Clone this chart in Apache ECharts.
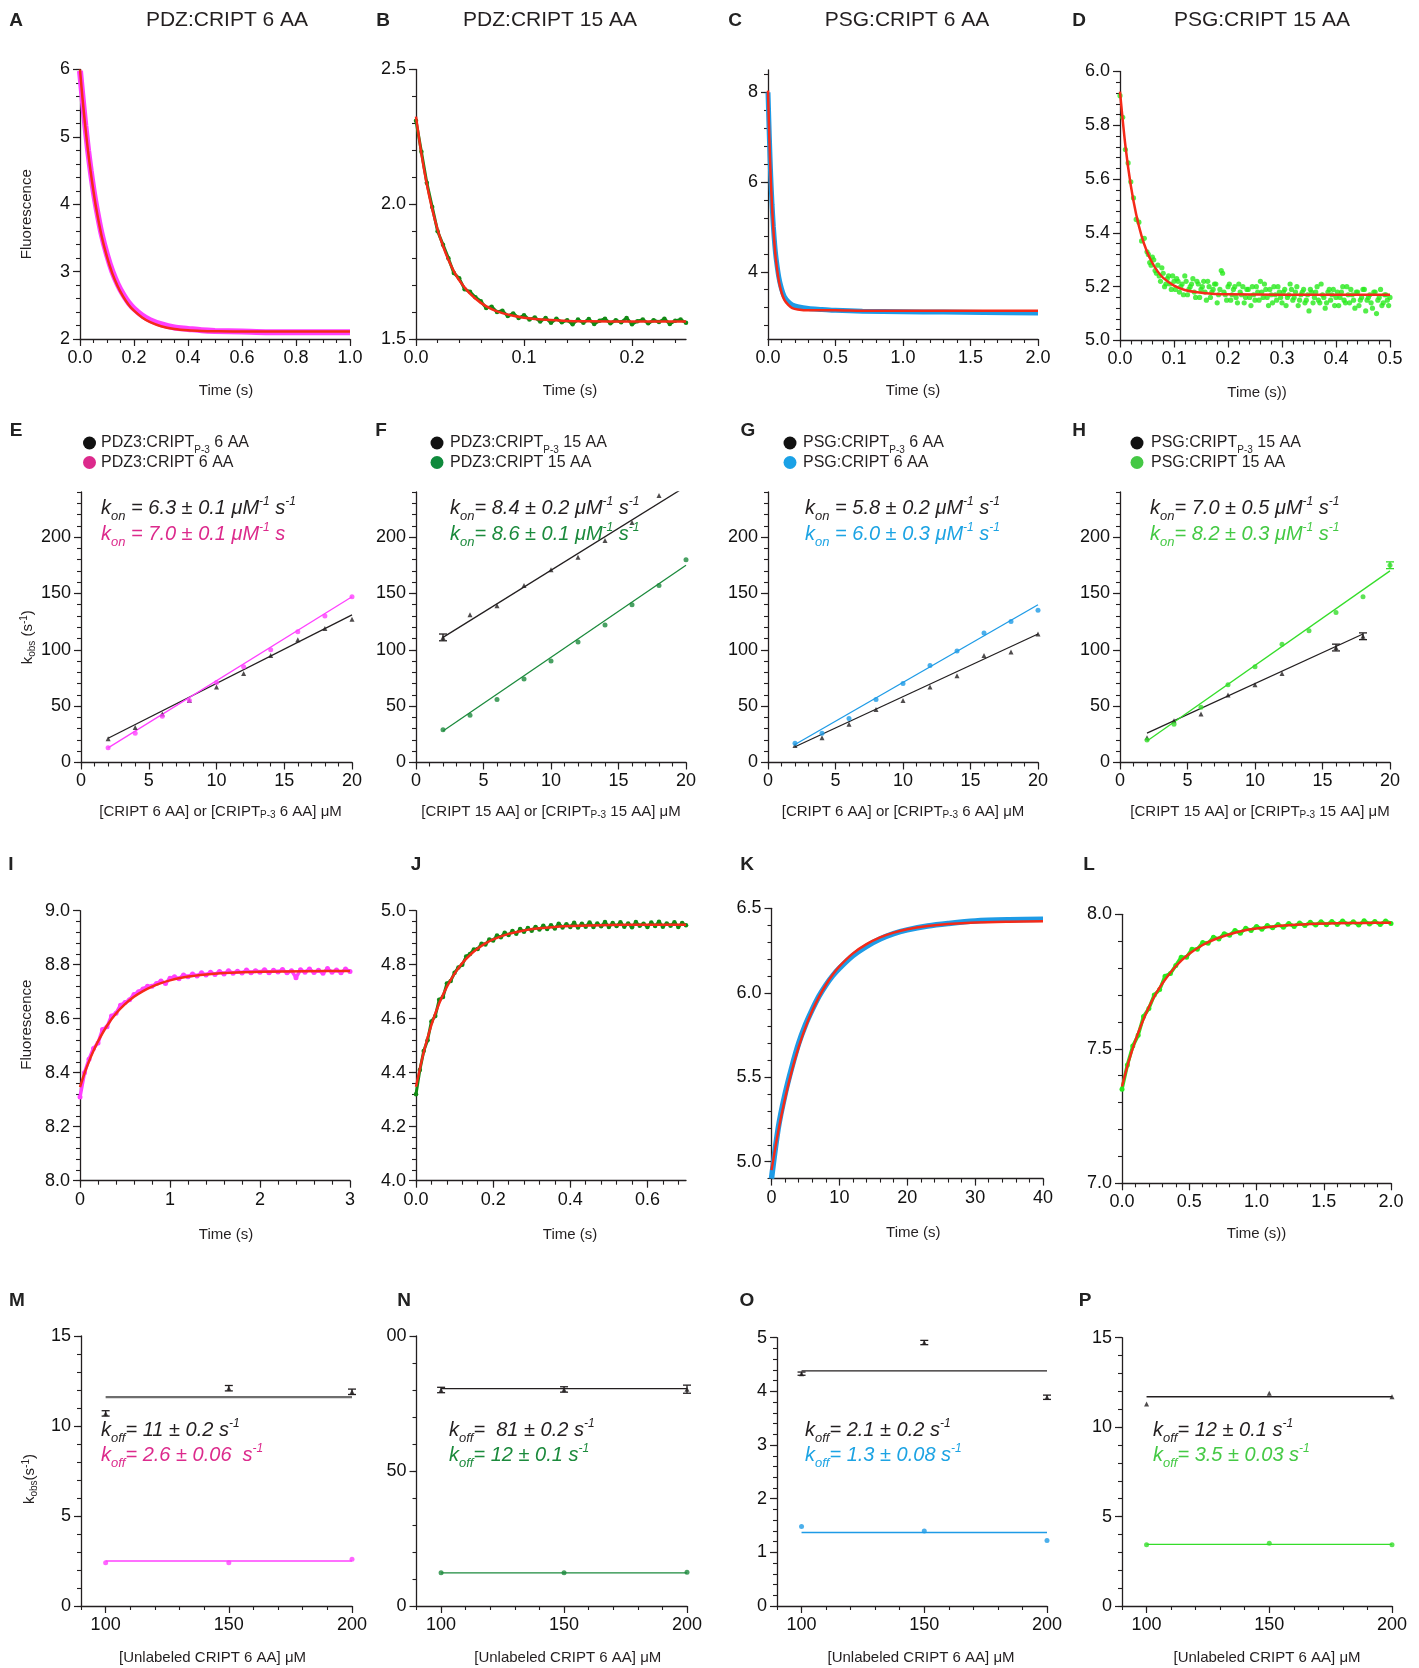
<!DOCTYPE html>
<html><head><meta charset="utf-8">
<script src="https://cdn.jsdelivr.net/npm/echarts@6/dist/echarts.min.js"></script>
<style>html,body{margin:0;padding:0;background:#fff}#c{width:1419px;height:1668px}</style>
</head><body><div id="c"></div>
<script>
// ================= DATA =================
// Panel A (PDZ:CRIPT 6 AA, dissociation trace)
const A_t   = [0,0.01,0.02,0.03,0.04,0.05,0.06,0.08,0.10,0.12,0.14,0.16,0.18,0.20,0.23,0.26,0.30,0.35,0.40,0.45,0.50,0.60,0.70,0.80,0.90,1.00];
const A_obs = [5.98,5.56,5.16,4.80,4.49,4.21,3.97,3.56,3.25,3.00,2.81,2.66,2.54,2.45,2.35,2.28,2.22,2.17,2.15,2.13,2.12,2.11,2.10,2.10,2.10,2.10];
const A_fit = [6.00,5.54,5.14,4.78,4.47,4.19,3.94,3.53,3.22,2.97,2.78,2.63,2.51,2.42,2.32,2.25,2.19,2.15,2.13,2.12,2.115,2.11,2.11,2.11,2.11,2.11];
// Panel B (PDZ:CRIPT 15 AA)
const B_t   = [0,0.005,0.01,0.015,0.02,0.025,0.03,0.035,0.04,0.045,0.05,0.055,0.06,0.065,0.07,0.075,0.08,0.085,0.09,0.095,0.1,0.105,0.11,0.115,0.12,0.125,0.13,0.135,0.14,0.145,0.15,0.155,0.16,0.165,0.17,0.175,0.18,0.185,0.19,0.195,0.2,0.205,0.21,0.215,0.22,0.225,0.23,0.235,0.24,0.245,0.25];
const B_obs = [2.31,2.195,2.08,1.99,1.90,1.85,1.80,1.745,1.725,1.685,1.675,1.655,1.64,1.615,1.62,1.60,1.605,1.585,1.595,1.578,1.588,1.572,1.580,1.565,1.578,1.560,1.575,1.562,1.570,1.555,1.572,1.560,1.574,1.556,1.568,1.575,1.558,1.570,1.562,1.578,1.555,1.566,1.572,1.558,1.570,1.563,1.575,1.556,1.568,1.572,1.560];
const B_fitT = [0,0.005,0.01,0.015,0.02,0.025,0.03,0.035,0.04,0.05,0.06,0.07,0.08,0.09,0.10,0.12,0.14,0.16,0.20,0.25];
const B_fit  = [2.325,2.187,2.074,1.982,1.906,1.845,1.794,1.752,1.718,1.668,1.634,1.611,1.596,1.586,1.579,1.571,1.567,1.566,1.565,1.565];
// Panel C (PSG:CRIPT 6 AA)
const C_t   = [0,0.01,0.02,0.03,0.04,0.05,0.06,0.08,0.10,0.12,0.15,0.18,0.22,0.30,0.40,0.50,0.70,1.00,1.30,1.60,2.00];
const C_obs = [8.00,7.00,6.15,5.50,5.00,4.60,4.30,3.88,3.62,3.45,3.33,3.26,3.22,3.18,3.16,3.14,3.12,3.11,3.10,3.09,3.08];
const C_fit = [8.04,6.96,6.11,5.45,4.94,4.54,4.23,3.80,3.54,3.38,3.26,3.19,3.16,3.14,3.14,3.14,3.13,3.13,3.13,3.13,3.13];
// Panel D (PSG:CRIPT 15 AA) scattered points
const D_t1 = [0,0.005,0.01,0.015,0.02,0.025,0.03,0.035,0.04,0.045,0.05,0.055,0.06,0.065,0.07,0.075,0.08,0.085,0.09,0.095,0.1,0.105,0.11,0.115,0.12,0.125,0.13,0.135,0.14,0.145,0.15,0.155,0.16,0.165,0.17,0.175,0.18,0.185,0.19,0.195,0.2,0.205,0.21,0.215,0.22,0.225,0.23,0.235,0.24,0.245,0.25,0.255,0.26,0.265,0.27,0.275,0.28,0.285,0.29,0.295,0.3,0.305,0.31,0.315,0.32,0.325,0.33,0.335,0.34,0.345,0.35,0.355,0.36,0.365,0.37,0.375,0.38,0.385,0.39,0.395,0.4,0.405,0.41,0.415,0.42,0.425,0.43,0.435,0.44,0.445,0.45,0.455,0.46,0.465,0.47,0.475,0.48,0.485,0.49,0.495,0.5];
const D_v1 = [5.91,5.83,5.71,5.66,5.59,5.53,5.45,5.44,5.37,5.38,5.33,5.29,5.31,5.26,5.28,5.22,5.25,5.21,5.24,5.19,5.22,5.23,5.18,5.21,5.24,5.17,5.20,5.23,5.16,5.21,5.19,5.22,5.15,5.20,5.18,5.21,5.14,5.19,5.25,5.17,5.20,5.15,5.19,5.16,5.21,5.17,5.14,5.19,5.16,5.20,5.15,5.18,5.22,5.16,5.19,5.13,5.17,5.20,5.15,5.18,5.14,5.19,5.16,5.21,5.15,5.18,5.13,5.17,5.19,5.15,5.11,5.18,5.16,5.20,5.14,5.17,5.12,5.18,5.15,5.19,5.16,5.13,5.18,5.15,5.20,5.14,5.17,5.12,5.18,5.15,5.19,5.11,5.16,5.14,5.18,5.10,5.16,5.13,5.17,5.15,5.16];
const D_t2 = [0.0525,0.0575,0.0625,0.0675,0.0725,0.0775,0.0825,0.0875,0.0925,0.0975,0.1025,0.1075,0.1125,0.1175,0.1225,0.1275,0.1325,0.1375,0.1425,0.1475,0.1525,0.1575,0.1625,0.1675,0.1725,0.1775,0.1825,0.1875,0.1925,0.1975,0.2025,0.2075,0.2125,0.2175,0.2225,0.2275,0.2325,0.2375,0.2425,0.2475,0.2525,0.2575,0.2625,0.2675,0.2725,0.2775,0.2825,0.2875,0.2925,0.2975,0.3025,0.3075,0.3125,0.3175,0.3225,0.3275,0.3325,0.3375,0.3425,0.3475,0.3525,0.3575,0.3625,0.3675,0.3725,0.3775,0.3825,0.3875,0.3925,0.3975,0.4025,0.4075,0.4125,0.4175,0.4225,0.4275,0.4325,0.4375,0.4425,0.4475,0.4525,0.4575,0.4625,0.4675,0.4725,0.4775,0.4825,0.4875,0.4925,0.4975];
const D_v2 = [5.32,5.28,5.30,5.25,5.24,5.27,5.20,5.23,5.21,5.24,5.19,5.22,5.20,5.17,5.22,5.19,5.21,5.18,5.22,5.16,5.20,5.18,5.22,5.16,5.19,5.21,5.17,5.26,5.18,5.15,5.21,5.17,5.20,5.14,5.18,5.20,5.16,5.19,5.13,5.17,5.20,5.15,5.18,5.21,5.16,5.19,5.14,5.17,5.20,5.16,5.18,5.13,5.17,5.19,5.16,5.20,5.15,5.18,5.14,5.17,5.19,5.14,5.18,5.15,5.21,5.16,5.14,5.19,5.17,5.13,5.18,5.16,5.20,5.14,5.17,5.19,5.15,5.18,5.13,5.16,5.19,5.15,5.17,5.12,5.18,5.15,5.19,5.14,5.17,5.13];
const D_fitT = [0,0.01,0.02,0.03,0.04,0.05,0.06,0.07,0.08,0.10,0.12,0.14,0.17,0.20,0.30,0.40,0.50];
const D_fit  = [5.925,5.724,5.576,5.468,5.388,5.330,5.288,5.256,5.233,5.204,5.188,5.180,5.174,5.172,5.170,5.170,5.170];

// Row 2: kobs vs concentration
const conc   = [2,4,6,8,10,12,14,16,18,20];
const E_blk  = [21,31,43,55,67,79,95,109,119,127];
const E_col  = [13,26,41,55,71,85,100,116,130,147];
const E_blkFit = [21.5,131], E_colFit = [13,147];
const F_blkX = [2,4,6,8,10,12,14,16,18];
const F_blk  = [111,131,139,157,171,182,197,213,237];
const F_col  = [29,42,56,74,90,107,122,140,157,180];
const F_blkFit = [111,245], F_colFit = [28,175];
const F_err  = [[2,111,3]];
const G_blk  = [15,22,34,47,55,67,77,95,98,114];
const G_col  = [17,26,39,56,70,86,99,115,125,135];
const G_blkFit = [14,114], G_colFit = [16,140];
const H_blkX = [2,4,6,8,10,12,16,18];
const H_blk  = [22,37,43,60,69,79,102,112];
const H_col  = [20,34,49,69,85,105,117,133,147,175];
const H_blkFitX = [2,18], H_blkFit = [26,114], H_colFit = [19,170];
const H_blkErr = [[16,102,3],[18,112,3]], H_colErr = [[20,175,3]];

// Row 3: association traces
const I_t = [0,0.05,0.1,0.15,0.2,0.25,0.3,0.35,0.4,0.45,0.5,0.55,0.6,0.65,0.7,0.75,0.8,0.85,0.9,0.95,1,1.05,1.1,1.15,1.2,1.25,1.3,1.35,1.4,1.45,1.5,1.55,1.6,1.65,1.7,1.75,1.8,1.85,1.9,1.95,2,2.05,2.1,2.15,2.2,2.25,2.3,2.35,2.4,2.45,2.5,2.55,2.6,2.65,2.7,2.75,2.8,2.85,2.9,2.95,3];
const I_obs = [8.31,8.40,8.45,8.49,8.51,8.56,8.57,8.61,8.62,8.65,8.66,8.67,8.69,8.70,8.71,8.72,8.72,8.73,8.74,8.73,8.75,8.755,8.748,8.762,8.755,8.766,8.758,8.770,8.762,8.772,8.764,8.775,8.766,8.778,8.768,8.776,8.769,8.780,8.770,8.778,8.772,8.781,8.770,8.779,8.773,8.782,8.770,8.778,8.752,8.781,8.772,8.784,8.771,8.779,8.768,8.786,8.772,8.780,8.770,8.784,8.775];
const I_fitT = [0,0.05,0.1,0.15,0.2,0.3,0.4,0.5,0.6,0.7,0.8,0.9,1.0,1.2,1.4,1.6,1.8,2.0,2.5,3.0];
const I_fit  = [8.347,8.398,8.442,8.481,8.516,8.574,8.619,8.654,8.681,8.702,8.719,8.732,8.742,8.756,8.764,8.769,8.772,8.774,8.776,8.777];
const J_t = [0,0.01,0.02,0.03,0.04,0.05,0.06,0.07,0.08,0.09,0.1,0.11,0.12,0.13,0.14,0.15,0.16,0.17,0.18,0.19,0.2,0.21,0.22,0.23,0.24,0.25,0.26,0.27,0.28,0.29,0.3,0.31,0.32,0.33,0.34,0.35,0.36,0.37,0.38,0.39,0.4,0.41,0.42,0.43,0.44,0.45,0.46,0.47,0.48,0.49,0.5,0.51,0.52,0.53,0.54,0.55,0.56,0.57,0.58,0.59,0.6,0.61,0.62,0.63,0.64,0.65,0.66,0.67,0.68,0.69,0.7];
const J_obs = [4.32,4.41,4.48,4.52,4.59,4.61,4.67,4.68,4.73,4.74,4.77,4.79,4.80,4.83,4.84,4.856,4.858,4.878,4.875,4.893,4.890,4.908,4.902,4.918,4.910,4.925,4.915,4.932,4.922,4.936,4.926,4.940,4.930,4.944,4.932,4.946,4.934,4.952,4.938,4.950,4.940,4.955,4.938,4.952,4.941,4.956,4.940,4.953,4.942,4.958,4.940,4.954,4.943,4.957,4.941,4.953,4.939,4.958,4.944,4.952,4.940,4.956,4.943,4.959,4.941,4.953,4.944,4.957,4.940,4.954,4.946];
const J_fitT = [0,0.02,0.04,0.06,0.08,0.1,0.12,0.14,0.16,0.18,0.2,0.24,0.28,0.32,0.36,0.4,0.5,0.6,0.7];
const J_fit  = [4.348,4.476,4.577,4.656,4.718,4.767,4.806,4.836,4.860,4.879,4.894,4.914,4.927,4.935,4.940,4.943,4.947,4.948,4.948];
const K_t   = [0,1,2,3,4,5,6,7,8,9,10,12,14,16,18,20,23,26,30,35,40];
const K_obs = [4.90,5.20,5.40,5.56,5.70,5.81,5.90,5.98,6.045,6.10,6.145,6.22,6.275,6.318,6.35,6.372,6.395,6.41,6.425,6.432,6.435];
const K_fit = [4.95,5.181,5.375,5.539,5.678,5.795,5.893,5.976,6.046,6.106,6.156,6.233,6.288,6.328,6.356,6.376,6.395,6.407,6.416,6.421,6.424];
const L_t = [0,0.04,0.08,0.12,0.16,0.2,0.24,0.28,0.32,0.36,0.4,0.44,0.48,0.52,0.56,0.6,0.64,0.68,0.72,0.76,0.8,0.84,0.88,0.92,0.96,1,1.04,1.08,1.12,1.16,1.2,1.24,1.28,1.32,1.36,1.4,1.44,1.48,1.52,1.56,1.6,1.64,1.68,1.72,1.76,1.8,1.84,1.88,1.92,1.96,2];
const L_obs = [7.35,7.44,7.51,7.55,7.62,7.65,7.70,7.72,7.77,7.78,7.81,7.84,7.84,7.87,7.87,7.895,7.892,7.915,7.908,7.928,7.922,7.940,7.930,7.948,7.940,7.955,7.944,7.958,7.950,7.962,7.952,7.966,7.955,7.968,7.958,7.970,7.960,7.972,7.961,7.973,7.962,7.975,7.963,7.972,7.960,7.976,7.964,7.973,7.962,7.975,7.966];
const L_fitT = [0,0.05,0.1,0.15,0.2,0.25,0.3,0.4,0.5,0.6,0.7,0.8,0.9,1.0,1.2,1.4,1.6,1.8,2.0];
const L_fit  = [7.36,7.453,7.531,7.598,7.655,7.703,7.743,7.807,7.853,7.886,7.909,7.926,7.939,7.947,7.958,7.964,7.967,7.968,7.969];

// Row 4: kobs vs unlabeled competitor
const comp = [100,150,200];
const M_blk = [10.7,12.1,11.9], M_blkErr = [0.15,0.15,0.15], M_blkFit = 11.6, M_col = [2.4,2.4,2.6], M_colFit = 2.5;
const N_blk = [80,80.2,80.3],   N_blkErr = [1,1,1.5],        N_blkFit = 80.5, N_col = [12.3,12.3,12.5], N_colFit = 12.3;
const O_blk = [4.33,4.91,3.89], O_blkErr = [0.03,0.04,0.04], O_blkFit = 4.38, O_col = [1.48,1.40,1.22], O_colFit = 1.37;
const P_blk = [11.3,11.9,11.7], P_blkFit = 11.7, P_col = [3.42,3.51,3.42], P_colFit = 3.45;

// Texts
const panelLetters = ['A','B','C','D','E','F','G','H','I','J','K','L','M','N','O','P'];
const topTitles = ['PDZ:CRIPT 6 AA','PDZ:CRIPT 15 AA','PSG:CRIPT 6 AA','PSG:CRIPT 15 AA'];
const legendNames = [
  ['PDZ3:CRIPT{s|P-3} 6 AA','PDZ3:CRIPT 6 AA'],
  ['PDZ3:CRIPT{s|P-3} 15 AA','PDZ3:CRIPT 15 AA'],
  ['PSG:CRIPT{s|P-3} 6 AA','PSG:CRIPT 6 AA'],
  ['PSG:CRIPT{s|P-3} 15 AA','PSG:CRIPT 15 AA']];
const konTexts = [
  ['k{sub|on} = 6.3 ± 0.1 μM{sup|-1} s{sup|-1}','k{sub|on} = 7.0 ± 0.1 μM{sup|-1} s'],
  ['k{sub|on}= 8.4 ± 0.2 μM{sup|-1} s{sup|-1}','k{sub|on}= 8.6 ± 0.1 μM{sup|-1} s{sup|-1}'],
  ['k{sub|on} = 5.8 ± 0.2 μM{sup|-1} s{sup|-1}','k{sub|on} = 6.0 ± 0.3 μM{sup|-1} s{sup|-1}'],
  ['k{sub|on}= 7.0 ± 0.5 μM{sup|-1} s{sup|-1}','k{sub|on}= 8.2 ± 0.3 μM{sup|-1} s{sup|-1}']];
const koffTexts = [
  ['k{sub|off}= 11 ± 0.2 s{sup|-1}','k{sub|off}= 2.6 ± 0.06  s{sup|-1}'],
  ['k{sub|off}=  81 ± 0.2 s{sup|-1}','k{sub|off}= 12 ± 0.1 s{sup|-1}'],
  ['k{sub|off}= 2.1 ± 0.2 s{sup|-1}','k{sub|off}= 1.3 ± 0.08 s{sup|-1}'],
  ['k{sub|off}= 12 ± 0.1 s{sup|-1}','k{sub|off}= 3.5 ± 0.03 s{sup|-1}']];

// ================= STYLE =================
const FONT = "'Liberation Sans', Arial, Helvetica, sans-serif";
const BLACK = '#231f20', RED = '#f52a18', MAG = '#ff40ff', PINK = '#dc2a8c',
      DGREEN = '#128a14', DGREEN_T = '#1b8a3c', BLUE = '#1e9be6', BLUE_T = '#1ca3e3',
      LGREEN = '#27ea1c', LGREEN_L = '#35dd2a', LGREEN_T = '#44c944';

function steps(a, b, st) { const o = []; const n = Math.round((b - a) / st); for (let i = 0; i <= n; i++) o.push(+(a + i * st).toFixed(6)); return o; }

// panel layout: [left, top, right, bottom] in px
const P = {
  A: {g:[80,69.5,350,339],   x:{min:0,max:1,lab:[0,0.2,0.4,0.6,0.8,1],mi:steps(0,1,0.05),d:1,name:'Time (s)',sh:11,gap:43},
                             y:{min:2,max:6,lab:[2,3,4,5,6],mi:steps(2,6,0.2),d:0,name:'Fluorescence',sh:-10,gap:44}},
  B: {g:[416,69.5,686,339],  x:{min:0,max:0.25,lab:[0,0.1,0.2],mi:steps(0,0.24,0.02),d:1,name:'Time (s)',sh:19,gap:43},
                             y:{min:1.5,max:2.5,lab:[1.5,2,2.5],mi:steps(1.5,2.5,0.1),d:1}},
  C: {g:[768,70,1038,339],   x:{min:0,max:2,lab:[0,0.5,1,1.5,2],mi:steps(0,2,0.1),d:1,name:'Time (s)',sh:10,gap:43},
                             y:{min:2.5,max:8.5,lab:[4,6,8],mi:steps(2.8,8.4,0.4),d:0}},
  D: {g:[1120,71.5,1390,340.5], x:{min:0,max:0.5,lab:[0,0.1,0.2,0.3,0.4,0.5],mi:steps(0,0.5,0.02),d:1,name:'Time (s))',sh:2,gap:43},
                             y:{min:5,max:6,lab:[5,5.2,5.4,5.6,5.8,6],mi:steps(5,6,0.04),d:1}},
  E: {g:[81,492,352,762.5],  x:{min:0,max:20,lab:[0,5,10,15,20],mi:steps(0,20,1),d:0,name:'[CRIPT 6 AA] or [CRIPT{s|P-3} 6 AA] μM',sh:4,gap:40},
                             y:{min:0,max:240,lab:[0,50,100,150,200],mi:steps(0,240,10),d:0,name:'k{s|obs} (s{p|-1})',sh:-10,gap:42}},
  F: {g:[416,492,686,762.5], x:{min:0,max:20,lab:[0,5,10,15,20],mi:steps(0,20,1),d:0,name:'[CRIPT 15 AA] or [CRIPT{s|P-3} 15 AA] μM',sh:0,gap:40},
                             y:{min:0,max:240,lab:[0,50,100,150,200],mi:steps(0,240,10),d:0}},
  G: {g:[768,492,1038,762.5],x:{min:0,max:20,lab:[0,5,10,15,20],mi:steps(0,20,1),d:0,name:'[CRIPT 6 AA] or [CRIPT{s|P-3} 6 AA] μM',sh:0,gap:40},
                             y:{min:0,max:240,lab:[0,50,100,150,200],mi:steps(0,240,10),d:0}},
  H: {g:[1120,492,1390,762.5],x:{min:0,max:20,lab:[0,5,10,15,20],mi:steps(0,20,1),d:0,name:'[CRIPT 15 AA] or [CRIPT{s|P-3} 15 AA] μM',sh:5,gap:40},
                             y:{min:0,max:240,lab:[0,50,100,150,200],mi:steps(0,240,10),d:0}},
  I: {g:[80,910.7,350,1180.7], x:{min:0,max:3,lab:[0,1,2,3],mi:steps(0,3,0.2),d:0,name:'Time (s)',sh:11,gap:45},
                             y:{min:8,max:9,lab:[8,8.2,8.4,8.6,8.8,9],mi:steps(8,9,0.04),d:1,name:'Fluorescence',sh:21,gap:44}},
  J: {g:[416,910.7,686,1180.7], x:{min:0,max:0.7,lab:[0,0.2,0.4,0.6],mi:steps(0,0.68,0.04),d:1,name:'Time (s)',sh:19,gap:45},
                             y:{min:4,max:5,lab:[4,4.2,4.4,4.6,4.8,5],mi:steps(4,5,0.04),d:1}},
  K: {g:[771.5,908.3,1043,1178.6], x:{min:0,max:40,lab:[0,10,20,30,40],mi:steps(0,40,2),d:0,name:'Time (s)',sh:6,gap:45},
                             y:{min:4.9,max:6.5,lab:[5,5.5,6,6.5],mi:steps(4.9,6.5,0.1),d:1}},
  L: {g:[1122,914.3,1391,1183.3], x:{min:0,max:2,lab:[0,0.5,1,1.5,2],mi:steps(0,2,0.1),d:1,name:'Time (s))',sh:0,gap:42},
                             y:{min:7,max:8,lab:[7,7.5,8],mi:steps(7,8,0.1),d:1}},
  M: {g:[81,1336,352,1606],  x:{min:90,max:200,lab:[100,150,200],mi:steps(90,200,10),d:0,name:'[Unlabeled CRIPT 6 AA] μM',sh:-4,gap:43},
                             y:{min:0,max:15,lab:[0,5,10,15],mi:steps(0,15,1),d:0,name:'k{s|obs}(s{p|-1})',sh:-8,gap:42}},
  N: {g:[416.5,1336,687,1606.7], x:{min:90,max:200,lab:[100,150,200],mi:steps(90,200,10),d:0,name:'[Unlabeled CRIPT 6 AA] μM',sh:16,gap:43},
                             y:{min:0,max:100,lab:[0,50,100],mi:steps(0,100,10),d:0,fmt:v=>(v===100?'00':String(v))}},
  O: {g:[777,1337.7,1047,1607.3], x:{min:90,max:200,lab:[100,150,200],mi:steps(90,200,10),d:0,name:'[Unlabeled CRIPT 6 AA] μM',sh:9,gap:43},
                             y:{min:0,max:5,lab:[0,1,2,3,4,5],mi:steps(0,5,0.2),d:0}},
  P: {g:[1122,1337.7,1392,1608.3], x:{min:90,max:200,lab:[100,150,200],mi:steps(90,200,10),d:0,name:'[Unlabeled CRIPT 6 AA] μM',sh:10,gap:43},
                             y:{min:0,max:15,lab:[0,5,10,15],mi:steps(0,15,1),d:0}}
};

const grids = [], xAxes = [], yAxes = [], series = [], graphics = [];
const nameRich = {
  s: {fontSize: 10, color: BLACK, fontFamily: FONT, verticalAlign: 'bottom', lineHeight: 10, padding: [6,0,0,0]},
  p: {fontSize: 10, color: BLACK, fontFamily: FONT, verticalAlign: 'top', lineHeight: 10}
};
function axisPair(dim, gi, c) {
  const common = {type: 'value', gridIndex: gi, position: dim === 'x' ? 'bottom' : 'left', offset: 0,
                  min: c.min, max: c.max, splitLine: {show: false}, silent: true, scale: true};
  const pad = c.sh ? (c.sh > 0 ? [0,0,0,2*c.sh] : [0,2*(-c.sh),0,0]) : 0;
  const main = Object.assign({}, common, {
    axisLine: {show: true, onZero: false, lineStyle: {color: BLACK, width: 1.3}},
    axisTick: {show: true, length: 4, customValues: c.mi, lineStyle: {color: BLACK, width: 1.1}},
    axisLabel: {show: true, customValues: c.lab, formatter: c.fmt || (v => Number(v).toFixed(c.d)),
                fontSize: 18, color: '#111', fontFamily: FONT, margin: 10},
    name: c.name || '', nameLocation: 'middle', nameGap: c.gap || 40,
    nameTextStyle: {fontSize: 15, color: BLACK, fontFamily: FONT, padding: pad, lineHeight: 18, rich: nameRich}
  });
  const major = Object.assign({}, common, {
    axisLine: {show: false, onZero: false},
    axisTick: {show: true, length: 7, customValues: c.lab, lineStyle: {color: BLACK, width: 1.2}},
    axisLabel: {show: false}
  });
  return [main, major];
}
const keys = Object.keys(P);
keys.forEach((k, gi) => {
  const p = P[k];
  grids.push({left: p.g[0], top: p.g[1], width: p.g[2] - p.g[0], height: p.g[3] - p.g[1], containLabel: false});
  xAxes.push(...axisPair('x', gi, p.x));
  yAxes.push(...axisPair('y', gi, p.y));
});
const gIdx = k => keys.indexOf(k);
const zip = (a, b) => a.map((v, i) => [v, b[i]]);
function line(k, data, color, width, extra) {
  const gi = gIdx(k);
  series.push(Object.assign({type: 'line', xAxisIndex: 2*gi, yAxisIndex: 2*gi, data, symbol: 'none', showSymbol: false,
    lineStyle: {color, width}, itemStyle: {color}, silent: true, z: 2, smooth: false}, extra || {}));
}
function scat(k, data, color, symbol, size, extra) {
  const gi = gIdx(k);
  series.push(Object.assign({type: 'scatter', xAxisIndex: 2*gi, yAxisIndex: 2*gi, data, symbol, symbolSize: size,
    itemStyle: {color}, silent: true, z: 4}, extra || {}));
}
function errBars(k, data, color) {
  const gi = gIdx(k);
  series.push({type: 'custom', xAxisIndex: 2*gi, yAxisIndex: 2*gi, data, silent: true, z: 5, clip: false,
    renderItem(params, api) {
      const x = api.value(0), y = api.value(1), e = api.value(2);
      const t = api.coord([x, y + e]), b = api.coord([x, y - e]); const w = 4;
      const st = {stroke: color, lineWidth: 1.3};
      return {type: 'group', children: [
        {type: 'line', shape: {x1: t[0], y1: t[1], x2: b[0], y2: b[1]}, style: st},
        {type: 'line', shape: {x1: t[0]-w, y1: t[1], x2: t[0]+w, y2: t[1]}, style: st},
        {type: 'line', shape: {x1: b[0]-w, y1: b[1], x2: b[0]+w, y2: b[1]}, style: st}]};
    }});
}

// ---- Row 1 ----
line('A', zip(A_t, A_obs), MAG, 6, {smooth: 0.3});
line('A', zip(A_t, A_fit), RED, 2.5, {smooth: 0.3, z: 3});
line('B', zip(B_t, B_obs), DGREEN, 3, {showSymbol: true, symbol: 'circle', symbolSize: 4.5});
line('B', zip(B_fitT, B_fit), RED, 2.5, {smooth: 0.3, z: 3});
line('C', zip(C_t, C_obs), BLUE, 5, {smooth: 0.3});
line('C', zip(C_t, C_fit), RED, 2.5, {smooth: 0.3, z: 3});
scat('D', zip(D_t1, D_v1).concat(zip(D_t2, D_v2)), LGREEN, 'circle', 5.2, {z: 2});
line('D', zip(D_fitT, D_fit), RED, 2.5, {smooth: 0.3, z: 3});

// ---- Row 2 ----
line('E', zip([2,20], E_blkFit), BLACK, 1.3);
line('E', zip([2,20], E_colFit), MAG, 1.3);
scat('E', zip(conc, E_blk), BLACK, 'triangle', 5);
scat('E', zip(conc, E_col), MAG, 'circle', 5);
line('F', zip([2,20], F_blkFit), BLACK, 1.3);
line('F', zip([2,20], F_colFit), DGREEN_T, 1.3);
scat('F', zip(F_blkX, F_blk), BLACK, 'triangle', 5);
scat('F', zip(conc, F_col), DGREEN_T, 'circle', 5);
errBars('F', F_err, BLACK);
line('G', zip([2,20], G_blkFit), BLACK, 1.3);
line('G', zip([2,20], G_colFit), BLUE, 1.3);
scat('G', zip(conc, G_blk), BLACK, 'triangle', 5);
scat('G', zip(conc, G_col), BLUE, 'circle', 5);
line('H', zip(H_blkFitX, H_blkFit), BLACK, 1.3);
line('H', zip([2,20], H_colFit), LGREEN_L, 1.3);
scat('H', zip(H_blkX, H_blk), BLACK, 'triangle', 5);
scat('H', zip(conc, H_col), LGREEN_L, 'circle', 5);
errBars('H', H_blkErr, BLACK);
errBars('H', H_colErr, LGREEN_L);

// ---- Row 3 ----
line('I', zip(I_t, I_obs), MAG, 3.5, {showSymbol: true, symbol: 'circle', symbolSize: 5});
line('I', zip(I_fitT, I_fit), RED, 2.5, {smooth: 0.3, z: 3});
line('J', zip(J_t, J_obs), DGREEN, 3, {showSymbol: true, symbol: 'circle', symbolSize: 4.5});
line('J', zip(J_fitT, J_fit), RED, 2.5, {smooth: 0.3, z: 3});
line('K', zip(K_t, K_obs), BLUE, 5.5, {smooth: 0.3});
line('K', zip(K_t, K_fit), RED, 2.5, {smooth: 0.3, z: 3});
line('L', zip(L_t, L_obs), LGREEN, 3.5, {showSymbol: true, symbol: 'circle', symbolSize: 5});
line('L', zip(L_fitT, L_fit), RED, 2.5, {smooth: 0.3, z: 3});

// ---- Row 4 ----
const hz = v => [[100, v], [200, v]];
line('M', hz(M_blkFit), '#6e6e6e', 2.2);
line('M', hz(M_colFit), MAG, 1.5);
scat('M', zip(comp, M_blk), BLACK, 'triangle', 5);
scat('M', zip(comp, M_col), MAG, 'circle', 5);
errBars('M', comp.map((x, i) => [x, M_blk[i], M_blkErr[i]]), BLACK);
line('N', hz(N_blkFit), BLACK, 1.3);
line('N', hz(N_colFit), DGREEN_T, 1.3);
scat('N', zip(comp, N_blk), BLACK, 'triangle', 5);
scat('N', zip(comp, N_col), DGREEN_T, 'circle', 5);
errBars('N', comp.map((x, i) => [x, N_blk[i], N_blkErr[i]]), BLACK);
line('O', hz(O_blkFit), BLACK, 1.3);
line('O', hz(O_colFit), BLUE, 1.3);
scat('O', zip(comp, O_blk), BLACK, 'triangle', 5);
scat('O', zip(comp, O_col), BLUE, 'circle', 5);
errBars('O', comp.map((x, i) => [x, O_blk[i], O_blkErr[i]]), BLACK);
line('P', hz(P_blkFit), BLACK, 1.3);
line('P', hz(P_colFit), LGREEN_L, 1.3);
scat('P', zip(comp, P_blk), BLACK, 'triangle', 5);
scat('P', zip(comp, P_col), LGREEN_L, 'circle', 5);

// ================= TEXT (graphic) =================
function text(x, y, str, st) {
  graphics.push({type: 'text', x, y, silent: true, z: 100,
    style: Object.assign({text: str, fontFamily: FONT, fontSize: 16, fill: BLACK, align: 'left', verticalAlign: 'middle'}, st)});
}
const letterPos = [[16,20.5],[383,20.5],[735,20.5],[1079,20.5],[16,431],[381,431],[748,431],[1079,431],
                   [11,865],[416,865],[747,865],[1089,865],[17,1301],[404,1301],[747,1301],[1085,1301]];
panelLetters.forEach((L, i) => text(letterPos[i][0], letterPos[i][1], L, {fontSize: 19, fontWeight: 'bold', align: 'center', fill: '#222'}));
const titleX = [227, 550, 907, 1262];
topTitles.forEach((t, i) => text(titleX[i], 20.5, t, {fontSize: 21, align: 'center'}));
const legX = [[89.5,101],[437,450],[790,803],[1137,1151]];
const legCol = [PINK, '#0f8a3c', '#1aa1e6', '#45c845'];
legendNames.forEach((pair, i) => {
  const [cx, tx] = legX[i];
  graphics.push({type: 'circle', shape: {cx, cy: 443, r: 6.5}, style: {fill: '#111'}, silent: true});
  graphics.push({type: 'circle', shape: {cx, cy: 462.5, r: 6.5}, style: {fill: legCol[i]}, silent: true});
  const rich = {s: {fontSize: 10, fill: BLACK, fontFamily: FONT, verticalAlign: 'bottom', lineHeight: 10}};
  text(tx, 443, pair[0], {fontSize: 16, lineHeight: 24, rich});
  text(tx, 462.5, pair[1], {fontSize: 16});
});
function richFor(color) {
  return {
    sub: {fontSize: 13, fontStyle: 'italic', fill: color, fontFamily: FONT, verticalAlign: 'bottom', lineHeight: 13},
    sup: {fontSize: 12, fontStyle: 'italic', fill: color, fontFamily: FONT, verticalAlign: 'top', lineHeight: 12, padding: [3,0,0,0]}
  };
}
const textCol2 = [PINK, DGREEN_T, BLUE_T, LGREEN_T];
const konX = [101, 450, 805, 1150];
konTexts.forEach((pair, i) => {
  text(konX[i], 508, pair[0], {fontSize: 20, fontStyle: 'italic', lineHeight: 30, fill: BLACK, rich: richFor(BLACK)});
  text(konX[i], 534, pair[1], {fontSize: 20, fontStyle: 'italic', lineHeight: 30, fill: textCol2[i], rich: richFor(textCol2[i])});
});
const koffX = [101, 449, 805, 1153];
koffTexts.forEach((pair, i) => {
  text(koffX[i], 1430, pair[0], {fontSize: 20, fontStyle: 'italic', lineHeight: 30, fill: BLACK, rich: richFor(BLACK)});
  text(koffX[i], 1455, pair[1], {fontSize: 20, fontStyle: 'italic', lineHeight: 30, fill: textCol2[i], rich: richFor(textCol2[i])});
});

const chart = echarts.init(document.getElementById('c'), null, {renderer: 'canvas', width: 1419, height: 1668});
chart.setOption({
  animation: false,
  backgroundColor: '#ffffff',
  textStyle: {fontFamily: FONT},
  grid: grids, xAxis: xAxes, yAxis: yAxes, series, graphic: graphics
});
</script></body></html>
